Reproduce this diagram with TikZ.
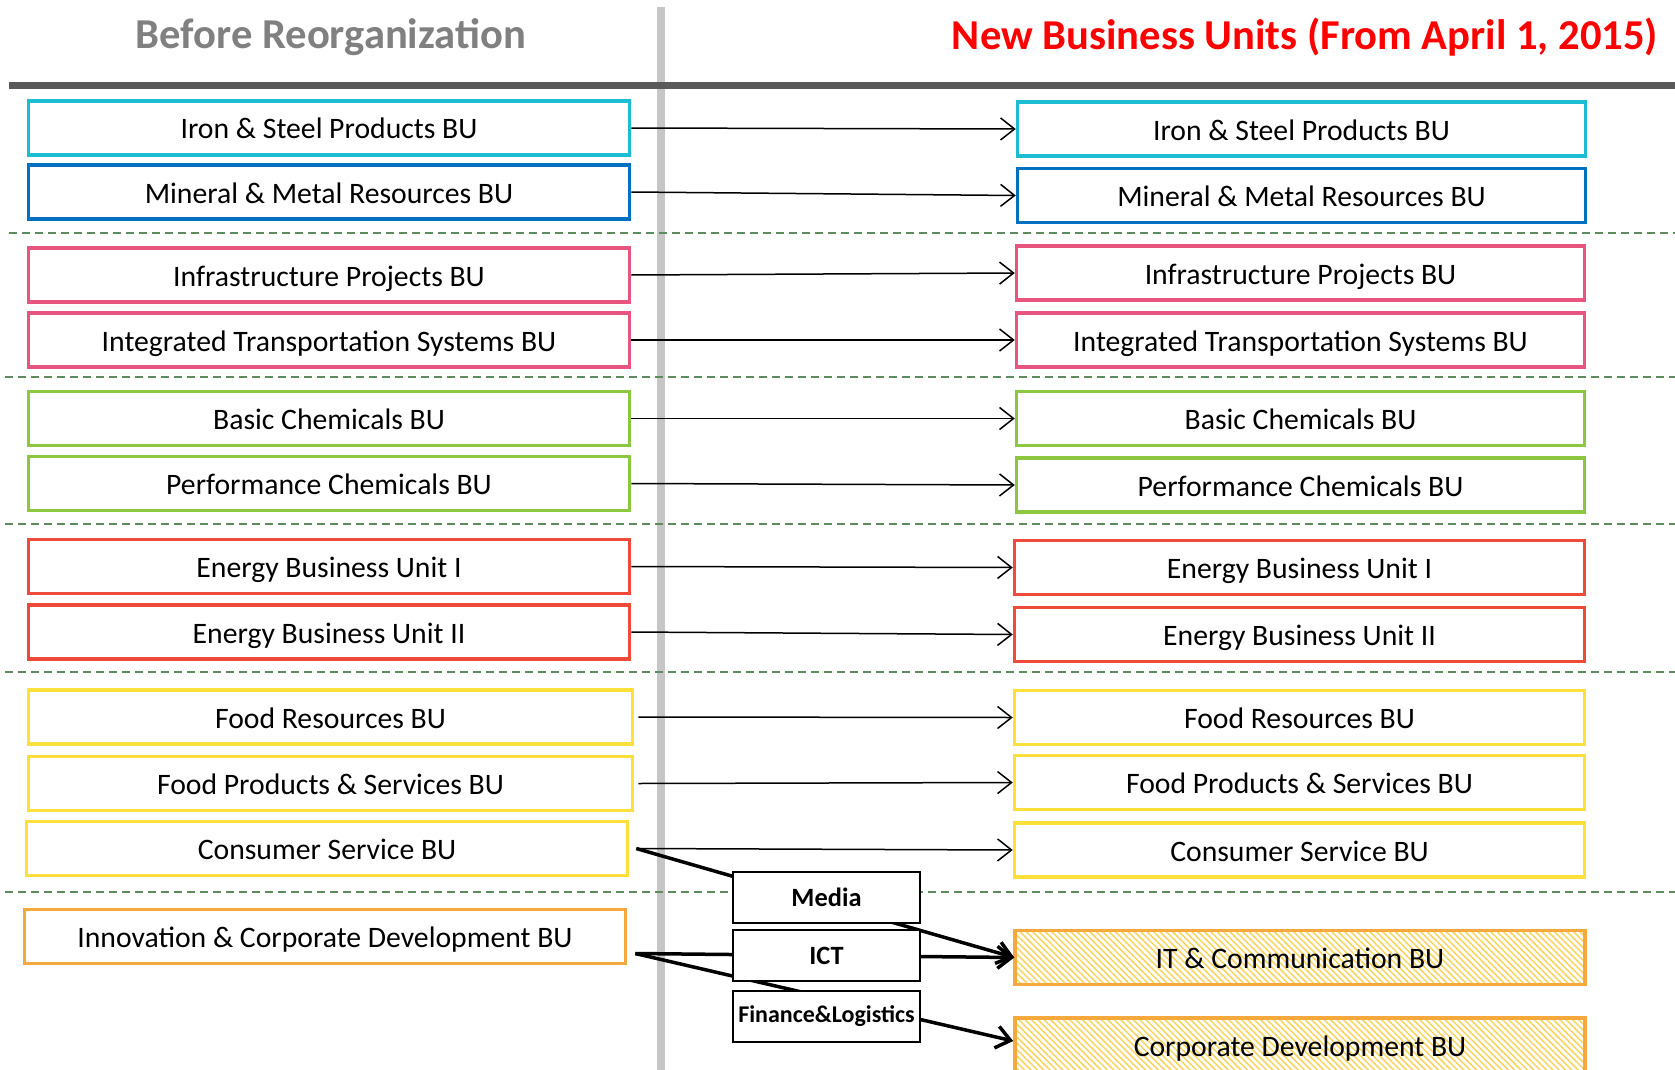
\documentclass[tikz,border=0pt]{standalone}
\usepackage{fontspec}
\setmainfont{Carlito}
\usetikzlibrary{arrows.meta,patterns.meta}
\definecolor{cIron}{HTML}{1CBCD2}
\definecolor{cMin}{HTML}{0070C0}
\definecolor{cPink}{HTML}{E8557F}
\definecolor{cGreen}{HTML}{8DC63F}
\definecolor{cRed}{HTML}{EE4B3B}
\definecolor{cYel}{HTML}{FFE03B}
\definecolor{cOra}{HTML}{F5A83B}
\definecolor{cHatch}{HTML}{F9D35A}
\definecolor{cDash}{HTML}{5E8C5E}
\definecolor{cTitleL}{HTML}{808080}
\begin{document}
\begin{tikzpicture}[x=1pt,y=-1pt,
  bu/.style={draw, line width=3.5pt, minimum height=54pt, inner sep=0pt,
    text height=22pt, text depth=0pt,
    fill=white, font=\fontsize{29.7}{34}\selectfont},
  lb/.style={bu, minimum width=601pt},
  rb/.style={bu, minimum width=568pt},
  hatchbox/.style={rb, fill=none, pattern={Lines[angle=-45,distance=4.5pt,line width=1.5pt]}, pattern color=cHatch},
  small/.style={draw, line width=2pt, fill=white, minimum width=187pt,
    minimum height=51pt, inner sep=0pt, font=\bfseries\fontsize{26.4}{30}\selectfont},
  thinarr/.style={-{Straight Barb[length=14pt,width=22pt]}, line width=1.5pt},
  thickarr/.style={-{Straight Barb[length=14pt,width=22pt]}, line width=3.5pt},
  sep/.style={cDash, line width=1.3pt, dash pattern=on 8pt off 5pt},
  title/.style={font=\bfseries\fontsize{42.6}{48}\selectfont}
]
\useasboundingbox (0,0) rectangle (1675,1070);
% titles
\node[title, text=cTitleL] (tl) at (331,37) {Before Reorganization};
\node[title, text=red] (tr) at (1305,37) {New Business Units (From April 1, 2015)};
% vertical divider and header rule
\draw[line width=8pt, gray!45] (661,7) -- (661,1070);
\draw[line width=7pt, black!65] (9,86) -- (1675,86);
% dashed separators
\draw[sep] (9,233) -- (1675,233);
\draw[sep] (5,377) -- (1675,377);
\draw[sep] (5,524) -- (1675,524);
\draw[sep] (5,672) -- (1675,672);
\draw[sep] (5,892) -- (1675,892);
% left boxes
\node[lb, draw=cIron] (l1) at (329,128) {Iron \& Steel Products BU};
\node[lb, draw=cMin] (l2) at (329,192) {Mineral \& Metal Resources BU};
\node[lb, draw=cPink] (l3) at (329,275) {Infrastructure Projects BU};
\node[lb, draw=cPink] (l4) at (329,340) {Integrated Transportation Systems BU};
\node[lb, draw=cGreen] (l5) at (329,418.5) {Basic Chemicals BU};
\node[lb, draw=cGreen] (l6) at (329,483.5) {Performance Chemicals BU};
\node[lb, draw=cRed] (l7) at (329,566.5) {Energy Business Unit I};
\node[lb, draw=cRed] (l8) at (329,632) {Energy Business Unit II};
\node[lb, draw=cYel, minimum width=604pt] (l9) at (330.5,717) {Food Resources BU};
\node[lb, draw=cYel, minimum width=604pt] (l10) at (330.5,783.5) {Food Products \& Services BU};
\node[lb, draw=cYel] (l11) at (327,848.5) {Consumer Service BU};
\node[lb, draw=cOra] (l12) at (325,936.5) {Innovation \& Corporate Development BU};
% right boxes
\node[rb, draw=cIron] (r1) at (1301.5,129) {Iron \& Steel Products BU};
\node[rb, draw=cMin] (r2) at (1301.5,195.5) {Mineral \& Metal Resources BU};
\node[rb, draw=cPink] (r3) at (1300.5,273) {Infrastructure Projects BU};
\node[rb, draw=cPink] (r4) at (1300.5,340) {Integrated Transportation Systems BU};
\node[rb, draw=cGreen] (r5) at (1300.5,418.5) {Basic Chemicals BU};
\node[rb, draw=cGreen] (r6) at (1300.5,485) {Performance Chemicals BU};
\node[rb, draw=cRed, minimum width=570pt] (r7) at (1299.5,567.5) {Energy Business Unit I};
\node[rb, draw=cRed, minimum width=570pt] (r8) at (1299.5,634.5) {Energy Business Unit II};
\node[rb, draw=cYel, minimum width=570pt] (r9) at (1299.5,717.5) {Food Resources BU};
\node[rb, draw=cYel, minimum width=570pt] (r10) at (1299.5,782.5) {Food Products \& Services BU};
\node[rb, draw=cYel, minimum width=570pt] (r11) at (1299.5,850) {Consumer Service BU};
\node[hatchbox, draw=cOra, minimum width=570pt] (r12) at (1300,957.5) {IT \& Communication BU};
\node[hatchbox, draw=cOra, minimum width=570pt] (r13) at (1300,1045) {Corporate Development BU};
% thin arrows
\foreach \i in {1,...,8} {\draw[thinarr] (l\i.east) -- (r\i.west);}
\draw[thinarr] ([xshift=4pt]l9.east) -- (r9.west);
\draw[thinarr] ([xshift=4pt]l10.east) -- (r10.west);
\coordinate (cs) at ([xshift=7pt]l11.east);
\draw[thinarr] (cs) -- (r11.west);
% thick arrows
\coordinate (ic) at ([xshift=8pt,yshift=-17pt]l12.east);
\draw[thickarr] (cs) -- (r12.west);
\draw[thickarr] (ic) -- (r12.west);
\draw[thickarr] (ic) -- ([yshift=4pt]r13.west);
% intermediate boxes
\node[small] (media) at (826.5,897.5) {Media};
\node[small] (ict) at (826.5,955.5) {ICT};
\node[small, font=\bfseries\fontsize{24}{28}\selectfont] (fin) at (826.5,1016) {Finance\&Logistics};
\end{tikzpicture}
\end{document}
